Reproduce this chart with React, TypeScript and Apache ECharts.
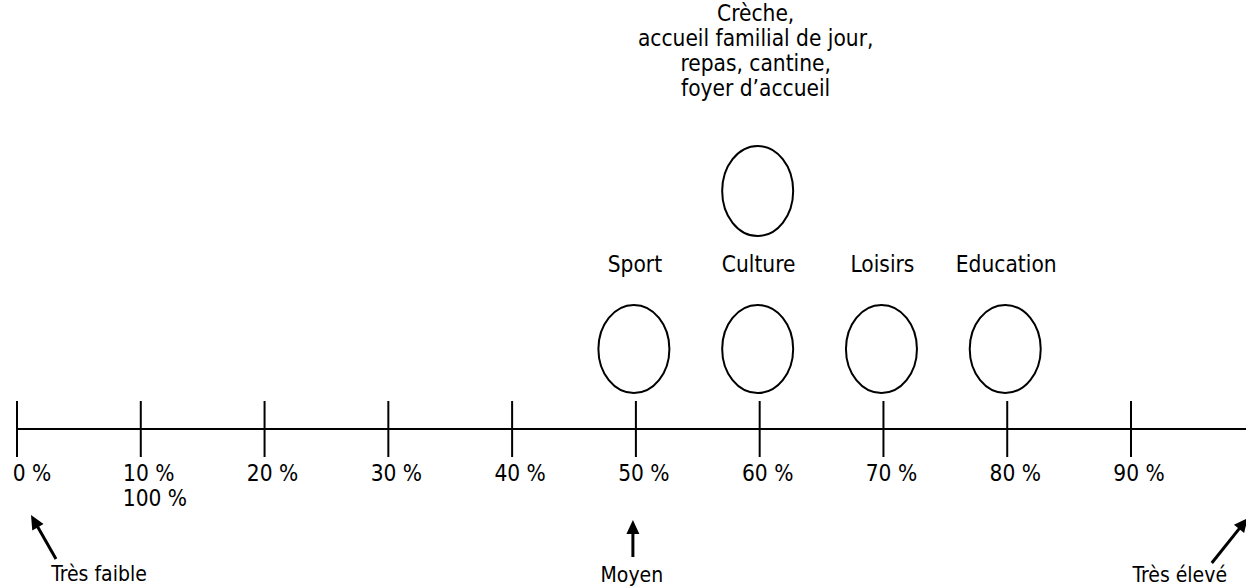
import React, { useEffect, useRef } from "react";
import * as echarts from "echarts";

// ---- data ----
const tickValues = [0, 10, 20, 30, 40, 50, 60, 70, 80, 90];
const tickLabels = ["0 %", "10 %", "20 %", "30 %", "40 %", "50 %", "60 %", "70 %", "80 %", "90 %"];
const extraLabelValue = 10;
const extraLabelText = "100 %";

const categoryNames = ["Sport", "Culture", "Loisirs", "Education"];
const categoryValues = [50, 60, 70, 80];

const topCategoryName = "Crèche,\naccueil familial de jour,\nrepas, cantine,\nfoyer d’accueil";
const topCategoryValue = 60;

const arrowNames = ["Très faible", "Moyen", "Très élevé"];
const arrowValues = [0, 50, 100];

const AXIS_MIN = -1.3734;
const AXIS_MAX = 99.29;

const FONT = '"DejaVu Sans Condensed", "DejaVu Sans", sans-serif';

export default function App() {
  const ref = useRef<HTMLDivElement>(null);

  useEffect(() => {
    if (!ref.current) return;
    const chart = echarts.init(ref.current, undefined, { renderer: "svg" });

    // pixel offsets relative to the axis line / tick (layout only)
    const arrowGeom = [
      { tip: [14, 86], tail: [39, 130], label: [82, 145] },
      { tip: [-3, 91], tail: [-3, 128], label: [-4, 146] },
      { tip: [-7, 89], tail: [-43, 134], label: [-75, 146] },
    ];

    const option: any = {
      animation: false,
      backgroundColor: "#ffffff",
      grid: { left: 0, right: 0, top: 0, bottom: 0 },
      xAxis: { type: "value", min: AXIS_MIN, max: AXIS_MAX, show: false },
      yAxis: { type: "value", min: -159, max: 429, show: false },
      series: [
        {
          type: "line",
          data: [[0, 0], [100, 0]],
          symbol: "none",
          lineStyle: { color: "#000", width: 2 },
          silent: true,
        },
        {
          type: "custom",
          data: tickValues.map((v, i) => [v, 0, i]),
          renderItem: (params: any, api: any) => {
            const v = api.value(0);
            const i = api.value(2);
            const p = api.coord([v, 0]);
            const children: any[] = [
              {
                type: "line",
                shape: { x1: p[0], y1: p[1] - 28, x2: p[0], y2: p[1] + 28 },
                style: { stroke: "#000", lineWidth: 2 },
              },
              {
                type: "text",
                style: {
                  text: tickLabels[i],
                  x: p[0] + (i === 0 ? 15 : 8),
                  y: p[1] + 44,
                  align: "center",
                  verticalAlign: "middle",
                  font: `22.5px ${FONT}`,
                  fill: "#000",
                },
              },
            ];
            if (v === extraLabelValue) {
              children.push({
                type: "text",
                style: {
                  text: extraLabelText,
                  x: p[0] - 18,
                  y: p[1] + 69,
                  align: "left",
                  verticalAlign: "middle",
                  font: `22.5px ${FONT}`,
                  fill: "#000",
                },
              });
            }
            return { type: "group", children };
          },
        },
        {
          type: "custom",
          data: categoryValues.map((v, i) => [v, 0, i]),
          renderItem: (params: any, api: any) => {
            const v = api.value(0);
            const i = api.value(2);
            const p = api.coord([v, 0]);
            return {
              type: "group",
              children: [
                {
                  type: "ellipse",
                  shape: { cx: p[0] - 2, cy: p[1] - 80, rx: 35.5, ry: 44 },
                  style: { fill: "none", stroke: "#000", lineWidth: 2 },
                },
                {
                  type: "text",
                  style: {
                    text: categoryNames[i],
                    x: p[0] - 1,
                    y: p[1] - 165,
                    align: "center",
                    verticalAlign: "middle",
                    font: `22.5px ${FONT}`,
                    fill: "#000",
                  },
                },
              ],
            };
          },
        },
        {
          type: "custom",
          data: [[topCategoryValue, 0]],
          renderItem: (params: any, api: any) => {
            const p = api.coord([api.value(0), 0]);
            return {
              type: "group",
              children: [
                {
                  type: "ellipse",
                  shape: { cx: p[0] - 2, cy: p[1] - 238, rx: 35.5, ry: 45 },
                  style: { fill: "none", stroke: "#000", lineWidth: 2 },
                },
                {
                  type: "text",
                  style: {
                    text: topCategoryName,
                    x: p[0] - 4,
                    y: p[1] - 379,
                    align: "center",
                    verticalAlign: "middle",
                    lineHeight: 25,
                    font: `22.5px ${FONT}`,
                    fill: "#000",
                  },
                },
              ],
            };
          },
        },
        {
          type: "custom",
          data: arrowValues.map((v, i) => [v, 0, i]),
          renderItem: (params: any, api: any) => {
            const v = api.value(0);
            const i = api.value(2);
            const p = api.coord([v, 0]);
            const g = arrowGeom[i];
            const tip = [p[0] + g.tip[0], p[1] + g.tip[1]];
            const tail = [p[0] + g.tail[0], p[1] + g.tail[1]];
            const dx = tip[0] - tail[0];
            const dy = tip[1] - tail[1];
            const len = Math.sqrt(dx * dx + dy * dy);
            const ux = dx / len;
            const uy = dy / len;
            const headLen = 14;
            const headHalf = 6.5;
            const bx = tip[0] - ux * headLen;
            const by = tip[1] - uy * headLen;
            return {
              type: "group",
              children: [
                {
                  type: "line",
                  shape: { x1: tail[0], y1: tail[1], x2: bx + ux * 2, y2: by + uy * 2 },
                  style: { stroke: "#000", lineWidth: 3 },
                },
                {
                  type: "polygon",
                  shape: {
                    points: [
                      tip,
                      [bx - uy * headHalf, by + ux * headHalf],
                      [bx + uy * headHalf, by - ux * headHalf],
                    ],
                  },
                  style: { fill: "#000" },
                },
                {
                  type: "text",
                  style: {
                    text: arrowNames[i],
                    x: p[0] + g.label[0],
                    y: p[1] + g.label[1],
                    align: "center",
                    verticalAlign: "middle",
                    font: `21px ${FONT}`,
                    fill: "#000",
                  },
                },
              ],
            };
          },
        },
      ],
    };

    chart.setOption(option);
    return () => chart.dispose();
  }, []);

  return (
    <div
      ref={ref}
      style={{ position: "absolute", left: 0, top: 0, width: 1246, height: 588 }}
    />
  );
}
